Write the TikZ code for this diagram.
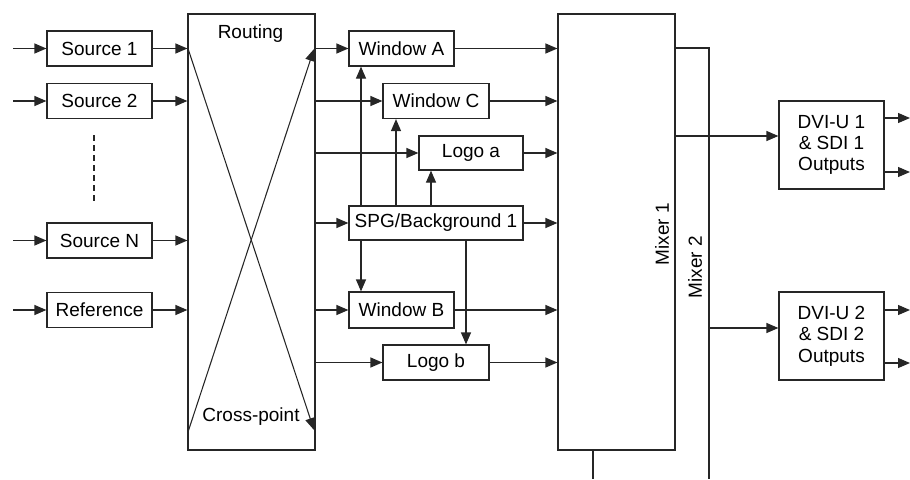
\documentclass[tikz,border=0pt]{standalone}
\usepackage{fontspec}
\setmainfont{Liberation Sans}
\usetikzlibrary{arrows.meta}
\begin{document}
\begin{tikzpicture}[x=0.75pt,y=-0.75pt,
  line width=0.9pt, color=black!85,
  box/.style={draw=black!85,line width=0.9pt,rectangle,inner sep=0pt,font=\fontsize{14.25}{17}\selectfont,text=black,align=center},
  smallbox/.style={box,minimum width=78.75pt,minimum height=26.25pt},
  lbl/.style={inner sep=0pt,font=\fontsize{14.25}{17}\selectfont,text=black},
  arr/.style={-{Triangle[length=9pt,width=7.5pt]}}
]
\useasboundingbox (0,0) rectangle (910,479);
% left column
\node[smallbox] (src1) at (99.5,48.5) {Source 1};
\node[smallbox] (src2) at (99.5,101) {Source 2};
\node[smallbox] (srcN) at (99.5,240.5) {Source N};
\node[smallbox] (ref) at (99.5,310) {Reference};
\coordinate (in1) at (13,48.5);
\coordinate (in2) at (13,101);
\coordinate (inN) at (13,240.5);
\coordinate (inR) at (13,310);
\draw[arr] (in1) -- (src1.west);
\draw[arr] (in2) -- (src2.west);
\draw[arr] (inN) -- (srcN.west);
\draw[arr] (inR) -- (ref.west);
\coordinate (d1) at (94,135);
\coordinate (d2) at (94,202);
\draw[dash pattern=on 4.5pt off 3pt] (d1) -- (d2);
% routing
\node[box,minimum width=95.25pt,minimum height=327pt] (rout) at (251.5,232) {};
\node[lbl] (routlbl) at (250.5,33.5) {Routing};
\node[lbl] (cplbl) at (251,417) {Cross-point};
\draw[arr] (src1.east) -- (src1.east -| rout.west);
\draw[arr] (src2.east) -- (src2.east -| rout.west);
\draw[arr] (srcN.east) -- (srcN.east -| rout.west);
\draw[arr] (ref.east) -- (ref.east -| rout.west);
\coordinate (xa) at (188,48.5);
\coordinate (xb) at (314,430);
\coordinate (xc) at (188,432);
\coordinate (xd) at (314,49);
\draw[arr,line width=0.8pt] (xa) -- (xb);
\draw[arr,line width=0.8pt] (xc) -- (xd);
% middle column
\node[smallbox] (winA) at (401.5,48.5) {Window A};
\node[smallbox,minimum width=79.5pt] (winC) at (436,101) {Window C};
\node[smallbox,minimum width=78pt,minimum height=25.5pt] (logoa) at (471,153) {Logo a};
\node[box,minimum width=130.5pt,minimum height=25.5pt] (spg) at (436,223) {SPG/Background 1};
\node[smallbox,minimum height=27pt] (winB) at (401.5,310) {Window B};
\node[smallbox,minimum width=79.5pt] (logob) at (436,362.5) {Logo b};
\draw[arr] (winA.west -| rout.east) -- (winA.west);
\draw[arr] (winC.west -| rout.east) -- (winC.west);
\draw[arr] (logoa.west -| rout.east) -- (logoa.west);
\draw[arr] (spg.west -| rout.east) -- (spg.west);
\draw[arr] (winB.west -| rout.east) -- (winB.west);
\draw[arr] (logob.west -| rout.east) -- (logob.west);
% SPG verticals
\coordinate (v1) at (361,0);
\coordinate (v2) at (396,0);
\coordinate (v3) at (431,0);
\coordinate (v4) at (466,0);
\draw[arr] (spg.north -| v1) -- (winA.south -| v1);
\draw[arr] (spg.north -| v2) -- (winC.south -| v2);
\draw[arr] (spg.north -| v3) -- (logoa.south -| v3);
\draw[arr] (spg.south -| v1) -- (winB.north -| v1);
\draw[arr] (spg.south -| v4) -- (logob.north -| v4);
% mixer
\node[box,minimum width=87.75pt,minimum height=327pt] (mix1) at (616.5,232) {};
\node[lbl,rotate=90] (mix1lbl) at (662,234) {Mixer 1};
\node[lbl,rotate=90] (mix2lbl) at (695,267) {Mixer 2};
\draw[arr] (winA.east) -- (winA.east -| mix1.west);
\draw[arr] (winC.east) -- (winC.east -| mix1.west);
\draw[arr] (logoa.east) -- (logoa.east -| mix1.west);
\draw[arr] (spg.east) -- (spg.east -| mix1.west);
\draw[arr] (winB.east) -- (winB.east -| mix1.west);
\draw[arr] (logob.east) -- (logob.east -| mix1.west);
\coordinate (m2a) at (675,48);
\coordinate (m2b) at (709,48);
\coordinate (m2c) at (709,479);
\draw (m2a) -- (m2b) -- (m2c);
\coordinate (m1x) at (593,0);
\coordinate (m1b) at (593,479);
\draw (mix1.south -| m1x) -- (m1b);
% outputs
\node[box,minimum width=78.75pt,minimum height=66pt] (dvi1) at (831.5,145) {DVI-U 1\\[-1pt] \& SDI 1\\[-1pt] Outputs};
\node[box,minimum width=78.75pt,minimum height=66pt] (dvi2) at (831.5,336) {DVI-U 2\\[-1pt] \& SDI 2\\[-1pt] Outputs};
\coordinate (o1) at (675,136);
\coordinate (o2) at (709,328);
\draw[arr] (o1) -- (o1 -| dvi1.west);
\draw[arr] (o2) -- (o2 -| dvi2.west);
\coordinate (e1) at (910,118);
\coordinate (e2) at (910,172);
\coordinate (e3) at (910,310);
\coordinate (e4) at (910,363);
\draw[arr] (e1 -| dvi1.east) -- (e1);
\draw[arr] (e2 -| dvi1.east) -- (e2);
\draw[arr] (e3 -| dvi2.east) -- (e3);
\draw[arr] (e4 -| dvi2.east) -- (e4);
\end{tikzpicture}
\end{document}
